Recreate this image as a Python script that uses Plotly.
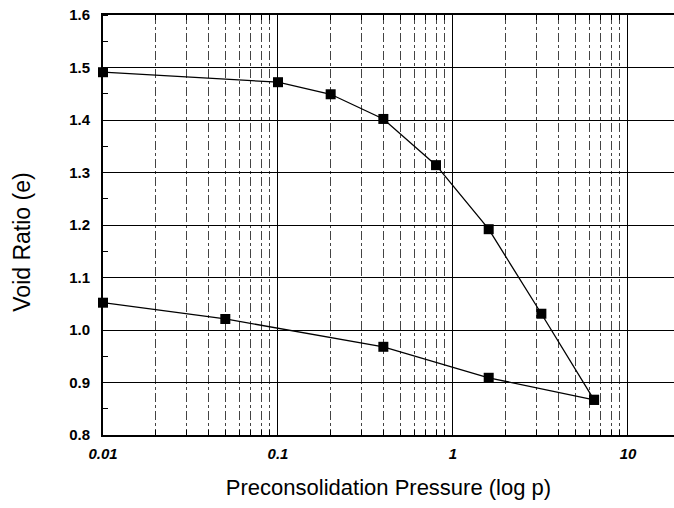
import plotly.graph_objects as go

# Loading branch (upper curve)
upper_p = [0.01, 0.1, 0.2, 0.4, 0.8, 1.6, 3.2, 6.4]
upper_e = [1.491, 1.472, 1.449, 1.402, 1.314, 1.192, 1.031, 0.867]

# Lower branch
lower_p = [0.01, 0.05, 0.4, 1.6, 6.4]
lower_e = [1.052, 1.021, 0.968, 0.909, 0.867]

decades = [0.01, 0.1, 1, 10]
decade_labels = ["0.01", "0.1", "1", "10"]
multipliers = [1, 2, 3, 4, 5, 6, 7, 8, 9]
y_tickvals = [0.8, 0.9, 1.0, 1.1, 1.2, 1.3, 1.4, 1.5, 1.6]
y_ticktext = ["0.8", "0.9", "1.0", "1.1", "1.2", "1.3", "1.4", "1.5", "1.6"]

all_x_ticks = [d * m for d in decades for m in multipliers]
all_x_text = [lab if m == 1 else "" for d, lab in zip(decades, decade_labels) for m in multipliers]

fig = go.Figure()
for xs, ys in [(upper_p, upper_e), (lower_p, lower_e)]:
    fig.add_trace(go.Scatter(
        x=xs, y=ys, mode="lines+markers",
        line=dict(color="black", width=1.3),
        marker=dict(symbol="square", size=10, color="black"),
        showlegend=False, cliponaxis=False,
    ))
# invisible trace to activate overlay x-axis
fig.add_trace(go.Scatter(x=[decades[0]], y=[y_tickvals[0]], xaxis="x2",
                         mode="markers", marker=dict(opacity=0),
                         showlegend=False, hoverinfo="skip"))

font_family = "Liberation Sans, Arial, sans-serif"
xrange = [-2, 1.263]

fig.update_layout(
    width=674, height=508,
    margin=dict(l=103, r=0, t=15, b=73),
    paper_bgcolor="white", plot_bgcolor="white",
    font=dict(family=font_family, color="black"),
    xaxis=dict(
        type="log", range=xrange,
        tickvals=all_x_ticks, ticktext=all_x_text,
        tickfont=dict(size=15, style="italic", weight="bold"),
        showline=True, linecolor="black", linewidth=2, mirror="ticks",
        ticks="inside", ticklen=5, tickcolor="black",
        showgrid=True, gridcolor="#444444", griddash="dashdot", gridwidth=1,
        zeroline=False, ticklabelstandoff=4,
        title=dict(text="Preconsolidation Pressure (log p)",
                   font=dict(size=22), standoff=19),
    ),
    xaxis2=dict(
        type="log", range=xrange, overlaying="x", side="bottom",
        tickvals=decades, showticklabels=False, ticks="",
        showgrid=True, gridcolor="black", gridwidth=1.2,
        showline=False, zeroline=False,
    ),
    yaxis=dict(
        range=[0.8, 1.6],
        tickvals=y_tickvals, ticktext=y_ticktext,
        tickfont=dict(size=15, weight="bold"),
        showline=True, linecolor="black", linewidth=2,
        showgrid=True, gridcolor="black", gridwidth=1.2,
        ticks="", zeroline=False, ticklabelstandoff=8,
        minor=dict(ticks="inside", ticklen=5, tickcolor="black",
                   dtick=0.05, showgrid=False),
    ),
    annotations=[dict(
        text="Void Ratio (e)", textangle=-90,
        xref="paper", yref="paper", x=-0.142, y=0.46,
        xanchor="center", yanchor="middle", showarrow=False,
        font=dict(size=23),
    )],
)

fig.write_html("out.html")
